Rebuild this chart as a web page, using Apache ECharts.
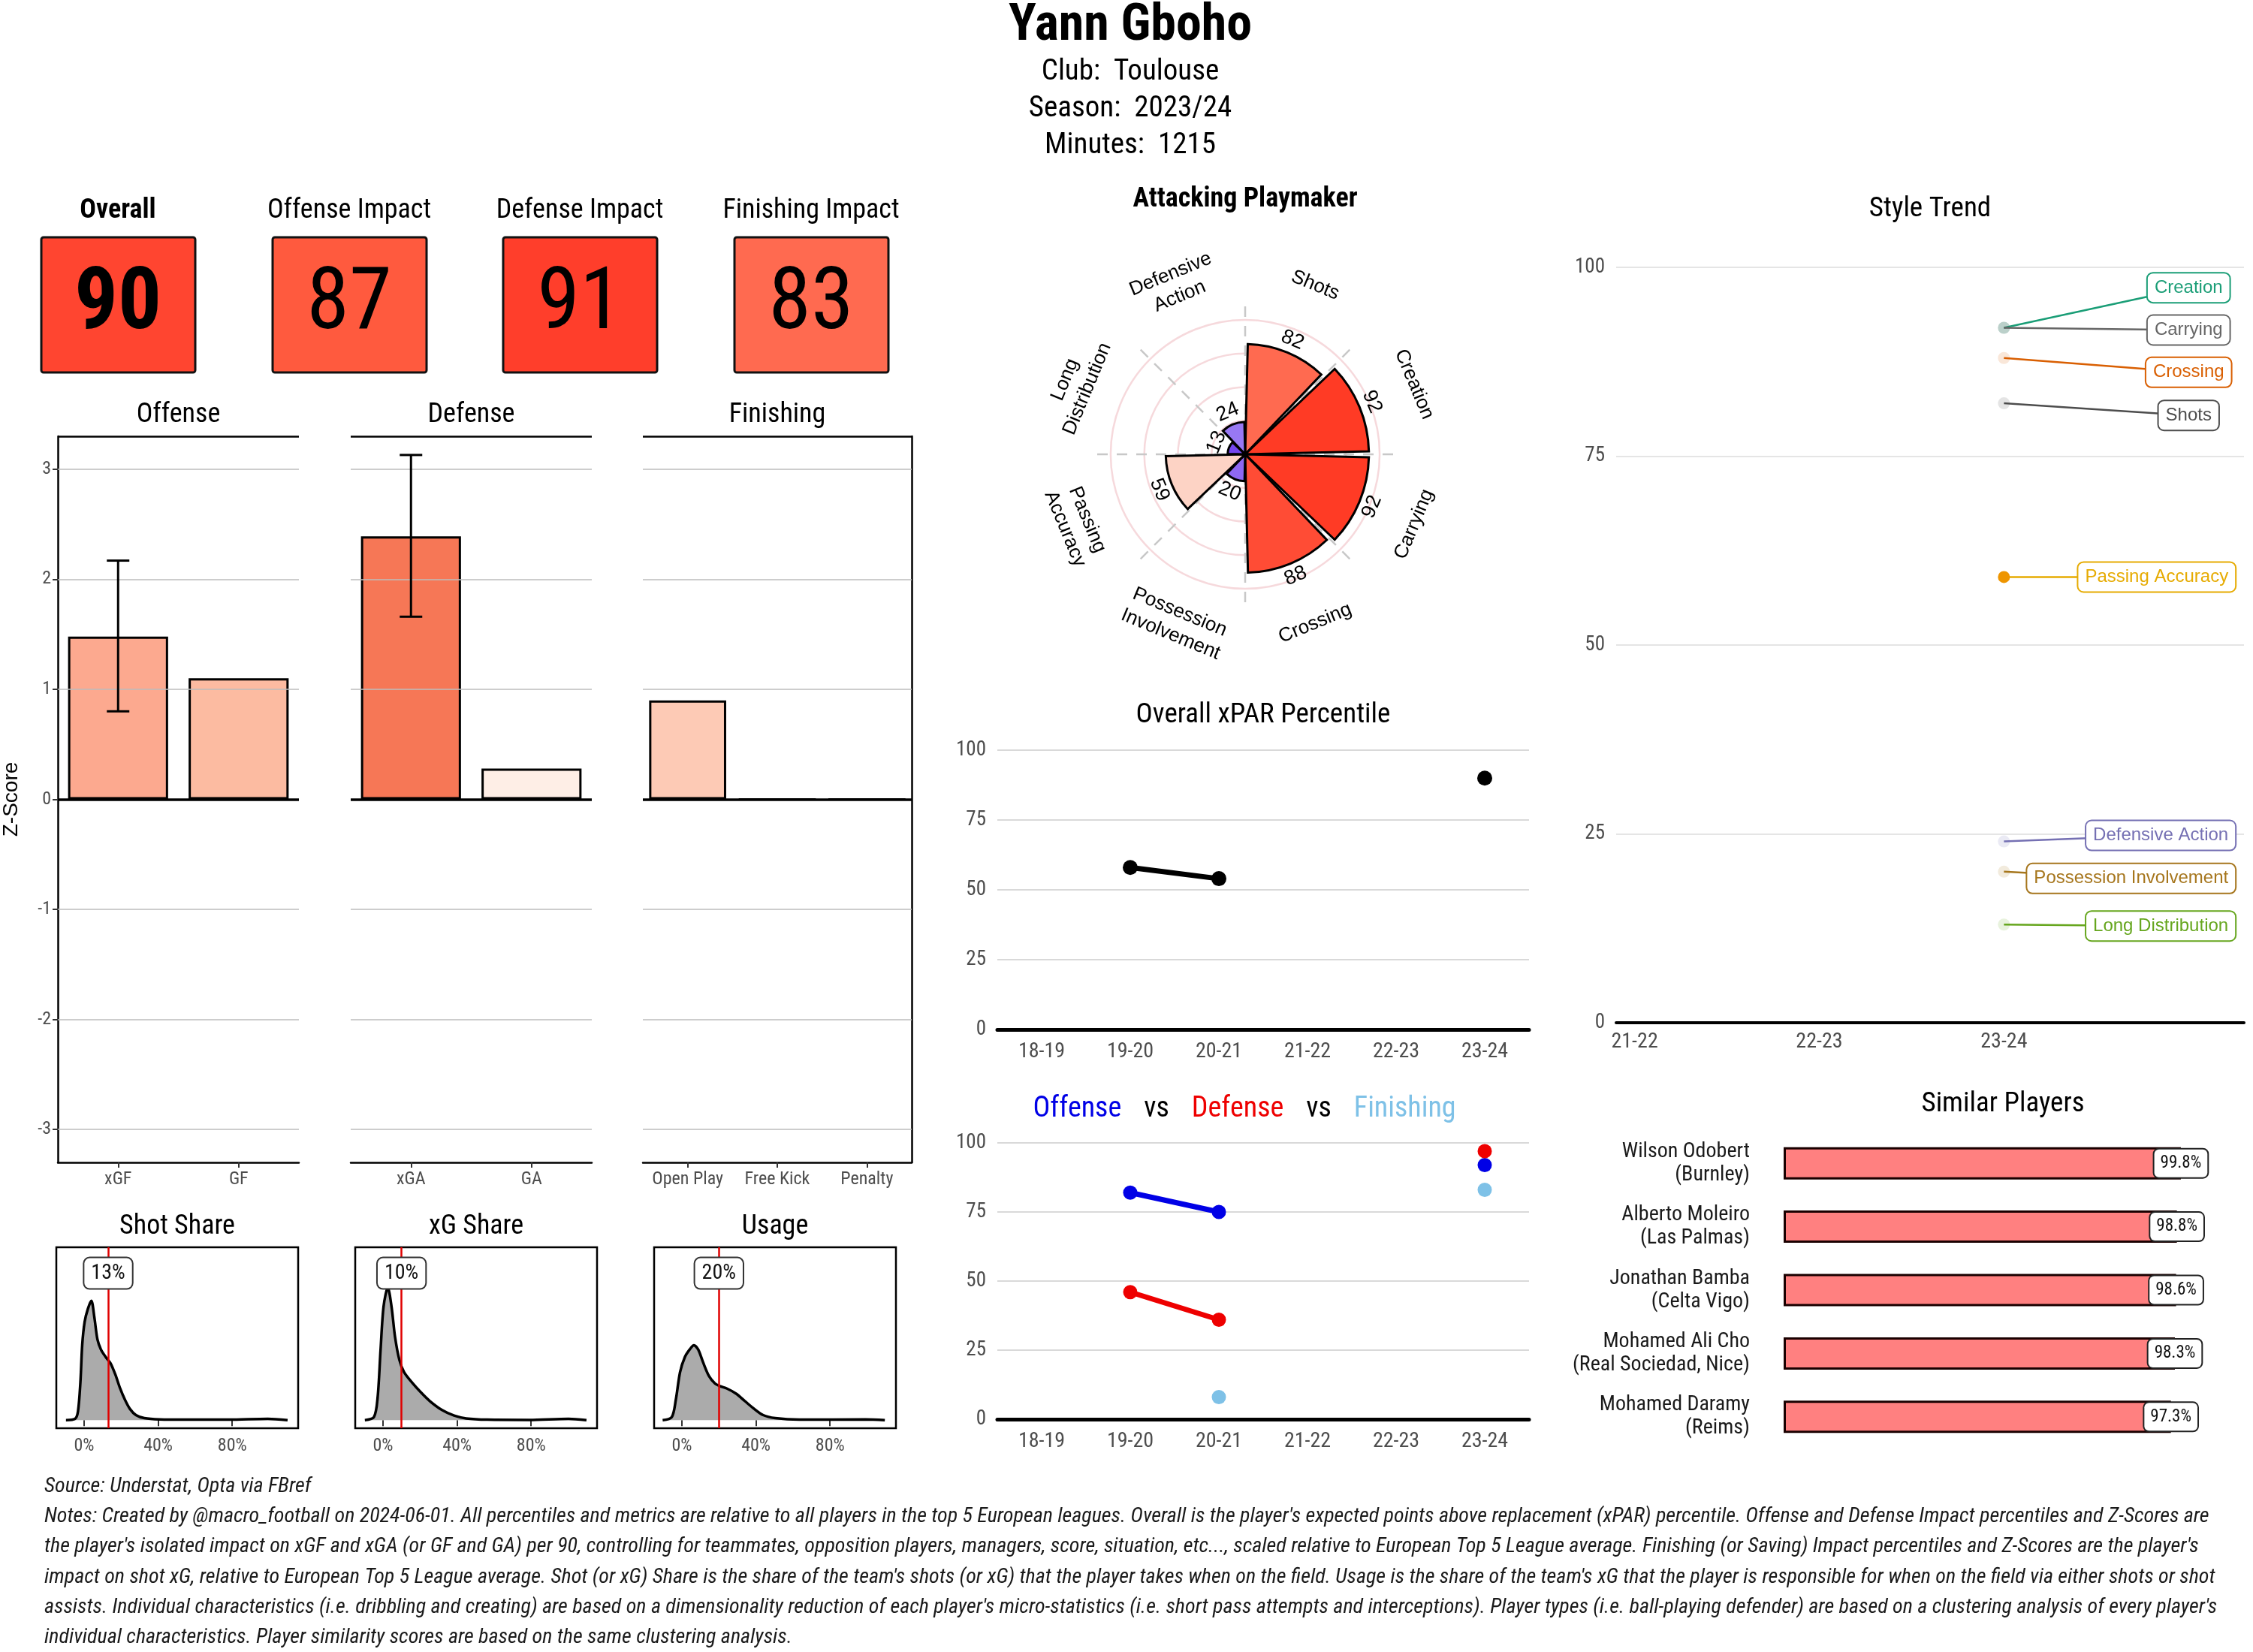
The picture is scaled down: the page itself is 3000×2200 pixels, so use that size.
<!DOCTYPE html>
<html><head><meta charset="utf-8">
<script src="https://cdn.jsdelivr.net/npm/echarts@6/dist/echarts.min.js"></script>
<style>html,body{margin:0;padding:0;background:#fff}#c{width:3000px;height:2200px}</style>
</head><body><div id="c"></div>
<script>
// ================= DATA =================
const playerName = 'Yann Gboho';
const infoLines = ['Club:  Toulouse', 'Season:  2023/24', 'Minutes:  1215'];

const kpiLabels = ['Overall', 'Offense Impact', 'Defense Impact', 'Finishing Impact'];
const kpiValues = [90, 87, 91, 83];

const zPanelTitles = ['Offense', 'Defense', 'Finishing'];
const offenseCats = ['xGF', 'GF'];
const offenseVals = [1.48, 1.10];
const offenseErrLow = [0.80, null];
const offenseErrHigh = [2.17, null];
const defenseCats = ['xGA', 'GA'];
const defenseVals = [2.39, 0.28];
const defenseErrLow = [1.66, null];
const defenseErrHigh = [3.13, null];
const finishingCats = ['Open Play', 'Free Kick', 'Penalty'];
const finishingVals = [0.90, 0, 0];
const zTicks = [-3, -2, -1, 0, 1, 2, 3];

const shareTitles = ['Shot Share', 'xG Share', 'Usage'];
const shareValues = [13, 10, 20];
const shareTicks = [0, 40, 80];
const shotShareX = [-9.8,-4.9,-3.3,-2.0,-1.0,0.3,2.0,3.9,5.5,7.2,9.1,11.7,14.3,16.9,19.5,22.1,24.7,28.0,32.5,40.7,55.3,78.0,99.2,109.9];
const shotShareY = [0,5,35,150,300,390,440,473,410,320,280,250,225,180,125,80,45,20,8,3,2,2,5,0];
const xgShareX = [-9.8,-4.9,-2.9,-1.3,0.3,2.6,4.6,6.5,8.8,11.4,15.6,20.5,25.4,31.9,38.4,44.9,56.3,79.0,100.2,109.9];
const xgShareY = [0,12,90,280,450,525,450,330,240,190,150,110,75,40,18,7,2,1,5,0];
const usageX = [-10.4,-5.5,-3.3,-1.0,1.6,4.2,6.5,8.8,11.4,14.6,17.9,20.5,24.4,29.3,34.1,39.0,43.9,50.4,63.4,99.2,109.6];
const usageY = [0,12,80,190,250,280,297,280,230,175,145,135,125,105,75,45,20,8,2,3,0];

const polarTitle = 'Attacking Playmaker';
const polarCats = ['Shots', 'Creation', 'Carrying', 'Crossing', 'Possession Involvement', 'Passing Accuracy', 'Long Distribution', 'Defensive Action'];
const polarLabelText = ['Shots', 'Creation', 'Carrying', 'Crossing', 'Possession\nInvolvement', 'Passing\nAccuracy', 'Long\nDistribution', 'Defensive\nAction'];
const polarVals = [82, 92, 92, 88, 20, 59, 13, 24];

const seasons = ['18-19', '19-20', '20-21', '21-22', '22-23', '23-24'];
const overallPct = [null, 58, 54, null, null, 90];
const offensePct = [null, 82, 75, null, null, 92];
const defensePct = [null, 46, 36, null, null, 97];
const finishingPct = [null, null, 8, null, null, 83];

const trendSeasons = ['21-22', '22-23', '23-24'];
const trendNames = ['Creation', 'Carrying', 'Crossing', 'Shots', 'Passing Accuracy', 'Defensive Action', 'Possession Involvement', 'Long Distribution'];
const trend2324 = [92, 92, 88, 82, 59, 24, 20, 13];

const simNames = ['Wilson Odobert', 'Alberto Moleiro', 'Jonathan Bamba', 'Mohamed Ali Cho', 'Mohamed Daramy'];
const simClubs = ['Burnley', 'Las Palmas', 'Celta Vigo', 'Real Sociedad, Nice', 'Reims'];
const simVals = [99.8, 98.8, 98.6, 98.3, 97.3];

const sourceLine = 'Source: Understat, Opta via FBref';
const noteLines = [
  "Notes: Created by @macro_football on 2024-06-01. All percentiles and metrics are relative to all players in the top 5 European leagues. Overall is the player's expected points above replacement (xPAR) percentile. Offense and Defense Impact percentiles and Z-Scores are",
  "the player's isolated impact on xGF and xGA (or GF and GA) per 90, controlling for teammates, opposition players, managers, score, situation, etc..., scaled relative to European Top 5 League average. Finishing (or Saving) Impact percentiles and Z-Scores are the player's",
  "impact on shot xG, relative to European Top 5 League average. Shot (or xG) Share is the share of the team's shots (or xG) that the player takes when on the field. Usage is the share of the team's xG that the player is responsible for when on the field via either shots or shot",
  "assists. Individual characteristics (i.e. dribbling and creating) are based on a dimensionality reduction of each player's micro-statistics (i.e. short pass attempts and interceptions). Player types (i.e. ball-playing defender) are based on a clustering analysis of every player's",
  "individual characteristics. Player similarity scores are based on the same clustering analysis."
];

// ================= STYLE / LAYOUT =================
const kpiColors = ['#FF4530', '#FF5A3E', '#FF3E2B', '#FF6A50'];
const offenseColors = ['#FCA98F', '#FCBBA1'];
const defenseColors = ['#F67756', '#FEEEE6'];
const finishingColors = ['#FDCAB5', '#FDCAB5', '#FDCAB5'];
const polarColors = ['#FF6A50', '#FF3B25', '#FF3B25', '#FF4C35', '#8E68F2', '#FDD3C5', '#7446EF', '#9878F3'];
const trendColors = ['#1B9E77', '#666666', '#D95F02', '#4D4D4D', '#E6AB02', '#7570B3', '#A6761D', '#66A61E'];
const trendPointColors = ['rgba(27,158,119,0.2)', 'rgba(102,102,102,0.2)', 'rgba(217,95,2,0.15)', 'rgba(77,77,77,0.15)', '#EE9500', 'rgba(117,112,179,0.15)', 'rgba(166,118,29,0.15)', 'rgba(102,166,30,0.15)'];
const trendLabelY = [97.3, 91.7, 86.1, 80.4, 59.0, 24.8, 19.1, 12.8];
const trendLabelX = 3, trendLabelMaxX = 3.26;
const shareLabelY = 582;
const zMin = -3.3, zMax = 3.3;
const densMin = -32, densMax = 685;
const polarCatR = 136, polarValOffset = 10;

// ---------- fonts ----------
function hasFont(name) {
  const c = document.createElement('canvas').getContext('2d');
  const t = 'The quick brown fox jumps 0123456789 WMWiii';
  return ['monospace', 'serif'].every(fb => {
    c.font = '50px ' + fb; const a = c.measureText(t).width;
    c.font = '50px "' + name + '", ' + fb; return c.measureText(t).width !== a;
  });
}
const condName = ['Roboto Condensed', 'Liberation Sans Narrow', 'Arial Narrow', 'DejaVu Sans Condensed'].find(hasFont);
const COND = condName ? '"' + condName + '"' : 'Roboto';
const SANS = hasFont('Liberation Sans') ? '"Liberation Sans"' : 'Arial, sans-serif';
const _mc = document.createElement('canvas').getContext('2d');
function textWidth(t, font) { _mc.font = font; return _mc.measureText(t).width; }

const longest = Math.max(...noteLines.map(l => textWidth(l, 'italic 26px ' + COND)));
const noteSize = 26 * 2895 / longest;

// ---------- grids ----------
const zGrids = [
  {left: 77, top: 581, width: 321, height: 967},
  {left: 467, top: 581, width: 321, height: 967},
  {left: 856, top: 581, width: 358, height: 967}
];
const shareGrids = [
  {left: 75, top: 1661, width: 322, height: 241},
  {left: 473, top: 1661, width: 322, height: 241},
  {left: 871, top: 1661, width: 322, height: 241}
];
const grids = [
  ...zGrids, ...shareGrids.map(g => Object.assign({show: true, borderColor: '#000', borderWidth: 2.5, backgroundColor: 'transparent'}, g)),
  {left: 1328, top: 999, width: 708, height: 372},
  {left: 1328, top: 1522, width: 708, height: 368},
  {left: 2152, top: 356, width: 836, height: 1006},
  {left: 2375, top: 1507, width: 530, height: 422}
];

const greyLbl = {color: '#4D4D4D', fontFamily: COND};
const zCatsList = [offenseCats, defenseCats, finishingCats];
const zValsList = [offenseVals, defenseVals, finishingVals];
const zColsList = [offenseColors, defenseColors, finishingColors];

const xAxes = [];
const yAxes = [];
zCatsList.forEach((cats, i) => {
  xAxes.push({type: 'category', gridIndex: i, data: cats,
    axisLine: {show: true, onZero: false, lineStyle: {color: '#000', width: 2.5}},
    axisTick: {show: true, alignWithLabel: true, interval: 0, length: 7, lineStyle: {color: '#333', width: 2}},
    axisLabel: Object.assign({fontSize: 24, margin: 11, interval: 0}, greyLbl), splitLine: {show: false}});
});
zCatsList.forEach((cats, i) => {
  yAxes.push({type: 'value', gridIndex: i, min: zMin, max: zMax,
    name: i === 0 ? 'Z-Score' : '', nameLocation: 'middle', nameGap: 48, nameRotate: 90,
    nameTextStyle: {fontSize: 28, color: '#000', fontFamily: SANS},
    axisLine: {show: i === 0, lineStyle: {color: '#000', width: 2.5}},
    axisTick: {show: i === 0, length: 7, customValues: zTicks, lineStyle: {color: '#333', width: 2}},
    axisLabel: Object.assign({show: i === 0, fontSize: 24, margin: 9, customValues: zTicks}, greyLbl),
    splitLine: {show: false}});
});
yAxes.push({type: 'value', gridIndex: 2, position: 'right', min: zMin, max: zMax,
  axisLine: {show: true, lineStyle: {color: '#000', width: 2.5}}, axisTick: {show: false}, axisLabel: {show: false}, splitLine: {show: false}});
shareGrids.forEach((g, i) => {
  xAxes.push({type: 'value', gridIndex: 3 + i, min: -15, max: 115.6,
    axisLine: {show: false}, splitLine: {show: false},
    axisTick: {show: true, customValues: shareTicks, length: 8, lineStyle: {color: '#333', width: 2}},
    axisLabel: Object.assign({fontSize: 24, margin: 12, customValues: shareTicks, formatter: v => v + '%'}, greyLbl)});
  yAxes.push({type: 'value', gridIndex: 3 + i, min: densMin, max: densMax, show: false});
});
[6, 7].forEach(gi => {
  xAxes.push({type: 'category', gridIndex: gi, data: seasons, boundaryGap: true,
    axisLine: {show: true, lineStyle: {color: '#000', width: 5}}, axisTick: {show: false},
    axisLabel: Object.assign({fontSize: 28, margin: 16, interval: 0}, greyLbl)});
  yAxes.push({type: 'value', gridIndex: gi, min: 0, max: 100, interval: 25,
    axisLine: {show: false}, axisTick: {show: false},
    axisLabel: Object.assign({fontSize: 27, margin: 15}, greyLbl),
    splitLine: {show: true, lineStyle: {color: '#D9D9D9', width: 2}}});
});
xAxes.push({type: 'value', gridIndex: 8, min: -0.1, max: 3.3,
  axisLine: {show: true, onZero: false, lineStyle: {color: '#000', width: 4}}, axisTick: {show: false}, splitLine: {show: false},
  axisLabel: Object.assign({fontSize: 28, margin: 12, customValues: [0, 1, 2], formatter: v => trendSeasons[Math.round(v)] || ''}, greyLbl)});
yAxes.push({type: 'value', gridIndex: 8, min: 0, max: 100, interval: 25,
  axisLine: {show: false}, axisTick: {show: false},
  axisLabel: Object.assign({fontSize: 27, margin: 15}, greyLbl),
  splitLine: {show: true, lineStyle: {color: '#DCDCDC', width: 1.5}}});
xAxes.push({type: 'value', gridIndex: 9, min: 0, max: 100, show: false});
yAxes.push({type: 'category', gridIndex: 9, inverse: true, data: simNames.map((n, i) => n + '\n(' + simClubs[i] + ')'),
  axisLine: {show: false}, axisTick: {show: false},
  axisLabel: {fontSize: 28, lineHeight: 31, margin: 45, color: '#1A1A1A', fontFamily: COND, align: 'right', interval: 0}});

const series = [];
zCatsList.forEach((cats, i) => {
  series.push({type: 'line', xAxisIndex: i, yAxisIndex: i, data: [], z: 1, silent: true,
    markLine: {silent: true, symbol: ['none', 'none'], label: {show: false}, animation: false,
      data: zTicks.filter(v => v !== 0).map(v => ({yAxis: v, lineStyle: {color: '#BDBDBD', width: 1.5, type: 'solid'}}))
        .concat([{yAxis: zMax, lineStyle: {color: '#000', width: 2.5, type: 'solid'}}])}});
});
zCatsList.forEach((cats, i) => {
  series.push({type: 'bar', xAxisIndex: i, yAxisIndex: i, z: 3, barWidth: i === 2 ? '86%' : '83%',
    data: zValsList[i].map((v, k) => ({value: v, itemStyle: {color: zColsList[i][k]}})),
    itemStyle: {borderColor: '#000', borderWidth: 3},
    markLine: {silent: true, symbol: ['none', 'none'], label: {show: false}, animation: false,
      data: [{yAxis: 0, lineStyle: {color: '#000', width: 3.5, type: 'solid'}}]}});
});
[[offenseErrLow, offenseErrHigh, 0], [defenseErrLow, defenseErrHigh, 1]].forEach(([lo, hi, gi]) => {
  const d = [];
  lo.forEach((l, k) => { if (l != null) d.push([k, l, hi[k]]); });
  series.push({type: 'custom', xAxisIndex: gi, yAxisIndex: gi, z: 5, data: d,
    renderItem: (params, api) => {
      const a = api.coord([api.value(0), api.value(2)]);
      const b = api.coord([api.value(0), api.value(1)]);
      const hw = 15, st = {stroke: '#000', lineWidth: 3};
      return {type: 'group', children: [
        {type: 'line', shape: {x1: a[0], y1: a[1], x2: b[0], y2: b[1]}, style: st},
        {type: 'line', shape: {x1: a[0] - hw, y1: a[1], x2: a[0] + hw, y2: a[1]}, style: st},
        {type: 'line', shape: {x1: b[0] - hw, y1: b[1], x2: b[0] + hw, y2: b[1]}, style: st}
      ]};
    }});
});
[[shotShareX, shotShareY], [xgShareX, xgShareY], [usageX, usageY]].forEach(([xs, ys], i) => {
  series.push({type: 'line', xAxisIndex: 3 + i, yAxisIndex: 4 + i, smooth: 0.3, symbol: 'none', z: 3,
    data: xs.map((x, k) => [x, ys[k]]),
    lineStyle: {color: '#000', width: 3.5}, areaStyle: {color: '#ABABAB', opacity: 1},
    markLine: {silent: true, symbol: ['none', 'none'], label: {show: false}, animation: false,
      data: [{xAxis: shareValues[i], lineStyle: {color: '#E00000', width: 2.5, type: 'solid'}}]}});
  series.push({type: 'custom', xAxisIndex: 3 + i, yAxisIndex: 4 + i, z: 6,
    data: [[shareValues[i], shareLabelY]],
    renderItem: (params, api) => {
      const p = api.coord([api.value(0), api.value(1)]);
      return {type: 'text', x: p[0], y: p[1], style: {text: shareValues[i] + '%', fill: '#111', fontSize: 28, fontFamily: COND,
        align: 'center', verticalAlign: 'middle', textAlign: 'center', textVerticalAlign: 'middle',
        backgroundColor: '#fff', borderColor: '#333', borderWidth: 2, borderRadius: 7, padding: [6, 9]}};
    }});
});
series.push({type: 'bar', coordinateSystem: 'polar', z: 3, barCategoryGap: '6%',
  data: polarVals.map((v, i) => ({value: v, itemStyle: {color: polarColors[i]}})),
  itemStyle: {borderColor: '#000', borderWidth: 3}});
const polarTextData = polarVals.map((v, i) => [v + polarValOffset, i, 0]).concat(polarVals.map((v, i) => [polarCatR, i, 1]));
series.push({type: 'custom', coordinateSystem: 'polar', z: 10, data: polarTextData,
  renderItem: (params, api) => {
    const i = api.value(1), kind = api.value(2);
    const p = api.coord([api.value(0), i]);
    const c = api.coord([0, i]);
    const dx = p[0] - c[0], dy = p[1] - c[1];
    const theta = Math.atan2(dx, -dy) * 180 / Math.PI;
    let r = -theta;
    while (r <= -90) r += 180;
    while (r > 90) r -= 180;
    return {type: 'text', x: p[0], y: p[1], rotation: r * Math.PI / 180,
      style: {text: kind === 1 ? polarLabelText[i] : String(polarVals[i]), fill: '#000',
        fontFamily: SANS, fontSize: kind === 1 ? 26 : 27, lineHeight: 32,
        align: 'center', verticalAlign: 'middle', textAlign: 'center', textVerticalAlign: 'middle'}};
  }});
series.push({type: 'line', xAxisIndex: 6, yAxisIndex: 7, data: overallPct, connectNulls: false, z: 4,
  symbol: 'circle', symbolSize: 20, showSymbol: true, showAllSymbol: true,
  lineStyle: {color: '#000', width: 7}, itemStyle: {color: '#000'}});
[[offensePct, '#0000E6'], [defensePct, '#EE0000'], [finishingPct, '#7EC1E7']].forEach(([d, col]) => {
  series.push({type: 'line', xAxisIndex: 7, yAxisIndex: 8, data: d, connectNulls: false, z: 4,
    symbol: 'circle', symbolSize: 19, showSymbol: true, showAllSymbol: true,
    lineStyle: {color: col, width: 7}, itemStyle: {color: col}});
});
series.push({type: 'custom', xAxisIndex: 8, yAxisIndex: 9, z: 6,
  data: trend2324.map((v, i) => [2, v, trendLabelY[i]]),
  renderItem: (params, api) => {
    const i = params.dataIndex;
    const p = api.coord([api.value(0), api.value(1)]);
    const lc = api.coord([trendLabelX, api.value(2)]);
    const w = textWidth(trendNames[i], '24px ' + SANS) + 2 * 9 + 4;
    const rightLimit = api.coord([trendLabelMaxX, 0])[0];
    let cx = lc[0];
    if (cx + w / 2 > rightLimit) cx = rightLimit - w / 2;
    const col = trendColors[i];
    return {type: 'group', children: [
      {type: 'line', shape: {x1: p[0], y1: p[1], x2: cx, y2: lc[1]}, style: {stroke: col, lineWidth: 2.5}},
      {type: 'circle', shape: {cx: p[0], cy: p[1], r: 8}, style: {fill: trendPointColors[i]}},
      {type: 'text', x: cx, y: lc[1], style: {text: trendNames[i], fill: col, fontFamily: SANS, fontSize: 24,
        align: 'center', verticalAlign: 'middle', textAlign: 'center', textVerticalAlign: 'middle',
        backgroundColor: '#fff', borderColor: col, borderWidth: 2, borderRadius: 7, padding: [7, 9]}}
    ]};
  }});
series.push({type: 'bar', xAxisIndex: 9, yAxisIndex: 10, barWidth: 43, z: 3, data: simVals,
  itemStyle: {color: '#FF8080', borderColor: '#1A0000', borderWidth: 3}});
series.push({type: 'custom', xAxisIndex: 9, yAxisIndex: 10, z: 6,
  data: simVals.map((v, i) => [v, i]),
  renderItem: (params, api) => {
    const p = api.coord([api.value(0), api.value(1)]);
    return {type: 'text', x: p[0], y: p[1], style: {text: simVals[params.dataIndex].toFixed(1) + '%', fill: '#111', fontSize: 23, fontFamily: COND,
      align: 'center', verticalAlign: 'middle', textAlign: 'center', textVerticalAlign: 'middle',
      backgroundColor: '#fff', borderColor: '#222', borderWidth: 2, borderRadius: 6, padding: [7, 8]}};
  }});

const T = (x, y, text, size, opt) => ({type: 'text', x, y, silent: true,
  style: Object.assign({text, fill: '#000', fontSize: size, fontFamily: COND,
    align: 'center', verticalAlign: 'middle', textAlign: 'center', textVerticalAlign: 'middle'}, opt || {})});
const gfx = [];
gfx.push(T(1505, 36, playerName, 68, {fontWeight: 'bold'}));
infoLines.forEach((l, i) => gfx.push(T(1505, 96 + i * 49, l, 39)));
const kpiCenters = [157, 465, 772, 1080];
kpiLabels.forEach((l, i) => {
  gfx.push(T(kpiCenters[i], 281, l, 36, i === 0 ? {fontWeight: 'bold'} : {}));
  gfx.push({type: 'rect', silent: true, shape: {x: kpiCenters[i] - 102, y: 316, width: 205, height: 180, r: 3},
    style: {fill: kpiColors[i], stroke: '#111', lineWidth: 3}});
  gfx.push(T(kpiCenters[i], 408, String(kpiValues[i]), 115, i === 0 ? {fontWeight: 'bold'} : {}));
});
zPanelTitles.forEach((t, i) => gfx.push(T(zGrids[i].left + zGrids[i].width / 2, 553, t, 36)));
shareTitles.forEach((t, i) => gfx.push(T(shareGrids[i].left + shareGrids[i].width / 2, 1634, t, 36)));
gfx.push(T(1658, 266, polarTitle, 36, {fontWeight: 'bold'}));
gfx.push(T(1682, 953, 'Overall xPAR Percentile', 37));
gfx.push(T(1657, 1477, '{o|Offense}{k|vs}{d|Defense}{k|vs}{f|Finishing}', 38, {
  rich: {o: {fill: '#0000E6', fontSize: 38, fontFamily: COND},
         d: {fill: '#EE0000', fontSize: 38, fontFamily: COND},
         f: {fill: '#7EC1E7', fontSize: 38, fontFamily: COND},
         k: {fill: '#000', fontSize: 38, fontFamily: COND, padding: [0, 30]}}}));
gfx.push(T(2570, 279, 'Style Trend', 37));
gfx.push(T(2667, 1471, 'Similar Players', 37));
gfx.push(T(59, 1980, sourceLine, noteSize, {align: 'left', textAlign: 'left', fontStyle: 'italic', fill: '#1A1A1A'}));
noteLines.forEach((l, i) => gfx.push(T(59, 2020 + i * 40.3, l, noteSize, {align: 'left', textAlign: 'left', fontStyle: 'italic', fill: '#1A1A1A'})));

const option = {
  animation: false,
  backgroundColor: '#ffffff',
  textStyle: {fontFamily: COND},
  grid: grids,
  xAxis: xAxes,
  yAxis: yAxes,
  polar: {center: [1658, 605], radius: 197},
  angleAxis: {type: 'category', data: polarCats, startAngle: 90, clockwise: true, boundaryGap: true,
    axisLine: {show: false}, axisTick: {show: false}, axisLabel: {show: false},
    splitLine: {show: true, lineStyle: {color: '#C8C8C8', width: 2.5, type: [14, 12]}}},
  radiusAxis: {type: 'value', min: 0, max: 110, interval: 25,
    axisLine: {show: false}, axisTick: {show: false}, axisLabel: {show: false},
    splitLine: {show: true, lineStyle: {width: 2.5,
      color: ['rgba(0,0,0,0)', 'rgba(236,170,178,0.45)', 'rgba(236,170,178,0.45)', 'rgba(236,170,178,0.45)', 'rgba(236,170,178,0.45)', 'rgba(0,0,0,0)']}}},
  series,
  graphic: {elements: gfx}
};
const chart = echarts.init(document.getElementById('c'), null, {renderer: 'canvas', width: 3000, height: 2200});
chart.setOption(option);
</script>
</body></html>
